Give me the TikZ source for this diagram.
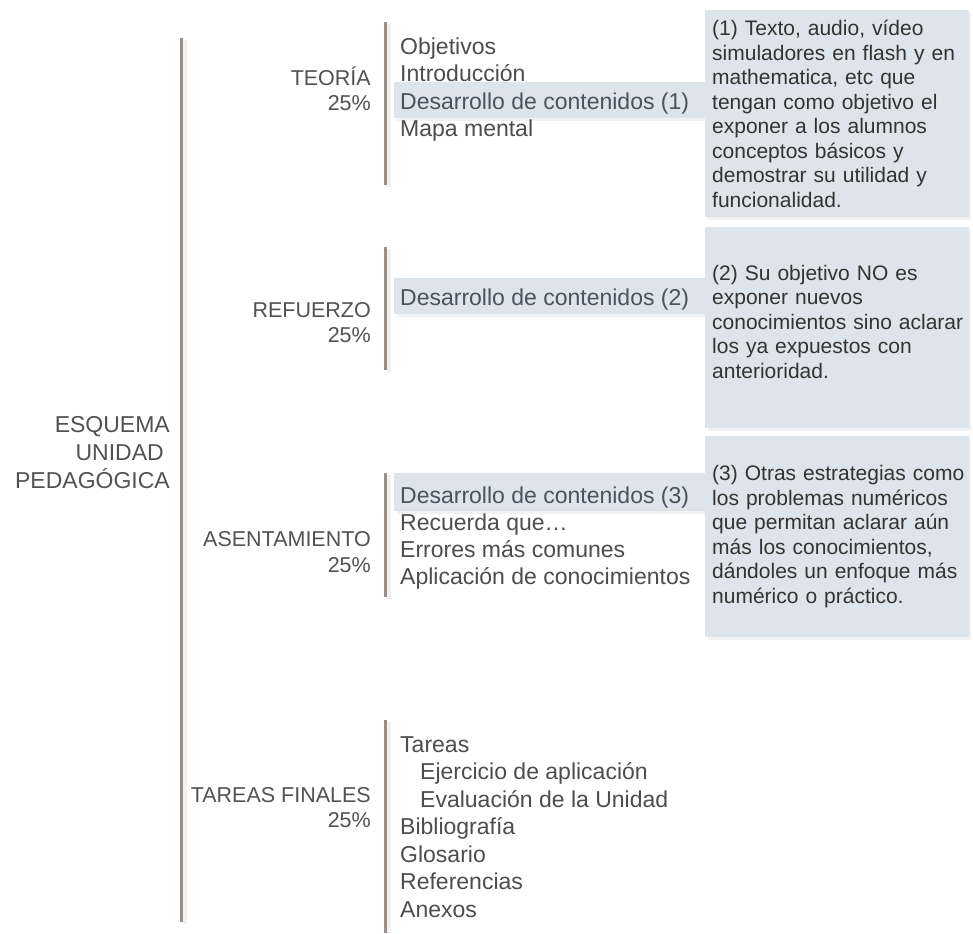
\documentclass[tikz,border=0pt]{standalone}
\usepackage{fontspec}
\setmainfont{Liberation Sans}
\definecolor{brk}{HTML}{9A8F87}
\definecolor{shd}{HTML}{F1F1F1}
\definecolor{barc}{HTML}{DEE4EB}
\definecolor{itemc}{HTML}{4D4D4D}
\definecolor{hic}{HTML}{4A535E}
\definecolor{labc}{HTML}{525252}
\definecolor{notec}{HTML}{333333}
\tikzset{
  brk/.style={draw=brk, line width=3pt},
  brkshadow/.style={draw=shd, line width=4pt},
  item/.style={anchor=base west, inner sep=0pt, text=itemc, font=\fontsize{23}{27}\selectfont},
  hitem/.style={item, text=hic},
  lab/.style={anchor=base east, inner sep=0pt, text=labc, font=\fontsize{21.5}{25}\selectfont},
  big/.style={anchor=base east, inner sep=0pt, text=labc, font=\fontsize{23}{28}\selectfont},
  hbar/.style={fill=barc, draw=none},
  note/.style={fill=barc, draw=none, text=notec, font=\fontsize{21}{24.5}\selectfont,
    align=left, text width=250pt, inner xsep=7pt, inner ysep=0pt, anchor=north west}
}
\begin{document}
\begin{tikzpicture}[x=1pt,y=-1pt]
\useasboundingbox[fill=white] (0,0) rectangle (973,933);

% soft shadows
\draw[brkshadow] (185,40) -- (185,924);
\draw[brkshadow] (389,24) -- (389,187);
\draw[brkshadow] (389,249) -- (389,372);
\draw[brkshadow] (389,475) -- (389,599);
\draw[brkshadow] (389,722) -- (389,933);
\fill[shd] (397,84) rectangle (705,121);
\fill[shd] (397,281) rectangle (705,317);
\fill[shd] (397,476) rectangle (705,514);
\fill[shd] (708,13) rectangle (971,220);
\fill[shd] (708,230) rectangle (971,431);
\fill[shd] (708,439) rectangle (971,640);

% main bracket
\draw[brk] (181,38) -- (181,922);
\node[big] (esq1) at (170,432) {ESQUEMA};
\node[big] (esq2) at (164,460) {UNIDAD};
\node[big] (esq3) at (170,488) {PEDAGÓGICA};

% highlight bars
\fill[hbar] (394,82) rectangle (706,118);
\fill[hbar] (394,278) rectangle (706,314);
\fill[hbar] (394,473) rectangle (706,511);

% TEORIA
\draw[brk] (385,22) -- (385,185);
\node[lab] (teo) at (371,86) {TEORÍA};
\node[lab] (teop) at (371,111) {25\%};
\node[item] (t1) at (400,55) {Objetivos};
\node[item] (t2) at (400,82) {Introducción};
\node[hitem] (t3) at (400,110) {Desarrollo de contenidos (1)};
\node[item] (t4) at (400,137) {Mapa mental};

% REFUERZO
\draw[brk] (385,247) -- (385,370);
\node[lab] (ref) at (371,317) {REFUERZO};
\node[lab] (refp) at (371,342) {25\%};
\node[hitem] (r1) at (400,305) {Desarrollo de contenidos (2)};

% ASENTAMIENTO
\draw[brk] (385,473) -- (385,597);
\node[lab] (ase) at (371,546) {ASENTAMIENTO};
\node[lab] (asep) at (371,572) {25\%};
\node[hitem] (a1) at (400,503) {Desarrollo de contenidos (3)};
\node[item] (a2) at (400,530) {Recuerda que…};
\node[item] (a3) at (400,557) {Errores más comunes};
\node[item] (a4) at (400,584) {Aplicación de conocimientos};

% TAREAS FINALES
\draw[brk] (385,720) -- (385,933);
\node[lab] (tar) at (371,802) {TAREAS FINALES};
\node[lab] (tarp) at (371,827) {25\%};
\node[item] (f1) at (400,752) {Tareas};
\node[item] (f2) at (420,779.5) {Ejercicio de aplicación};
\node[item] (f3) at (420,807) {Evaluación de la Unidad};
\node[item] (f4) at (400,834.5) {Bibliografía};
\node[item] (f5) at (400,862) {Glosario};
\node[item] (f6) at (400,889.5) {Referencias};
\node[item] (f7) at (400,917) {Anexos};

% notes
\node[note, minimum height=207pt] (n1) at (705,10) {\mbox{(1) Texto, audio, vídeo}\\\mbox{simuladores en flash y en}\\\mbox{mathematica, etc que}\\\mbox{tengan como objetivo el}\\\mbox{exponer a los alumnos}\\\mbox{conceptos básicos y}\\\mbox{demostrar su utilidad y}\\\mbox{funcionalidad.}};
\node[note, minimum height=201pt] (n2) at (705,227) {\mbox{(2) Su objetivo NO es}\\\mbox{exponer nuevos}\\\mbox{conocimientos sino aclarar}\\\mbox{los ya expuestos con}\\\mbox{anterioridad.}\par\vspace{12pt}};
\node[note, minimum height=201pt] (n3) at (705,436) {\mbox{(3) Otras estrategias como}\\\mbox{los problemas numéricos}\\\mbox{que permitan aclarar aún}\\\mbox{más los conocimientos,}\\\mbox{dándoles un enfoque más}\\\mbox{numérico o práctico.}};
\end{tikzpicture}
\end{document}
